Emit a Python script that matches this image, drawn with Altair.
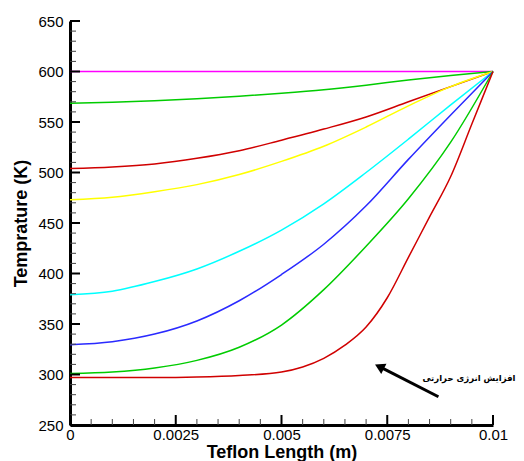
import altair as alt
import pandas as pd

# ---- data ----
x_len = [0, 0.001, 0.002, 0.003, 0.004, 0.005, 0.006, 0.007, 0.008, 0.009, 0.01]

t_magenta = [600, 600, 600, 600, 600, 600, 600, 600, 600, 600, 600]
t_green_top = [568.5, 569.5, 571, 573, 575.5, 578.5, 582, 586.5, 591.5, 596, 600]
t_red_top = [504, 505.5, 508.5, 514, 521.5, 532, 543, 555, 570, 585, 600]
t_yellow = [473, 475.5, 481, 488, 498, 511, 526, 545, 566, 585, 600]
t_cyan = [379, 382.5, 392, 404.5, 422, 443, 469, 500, 533, 567, 600]
t_blue = [329.5, 332.5, 340, 353, 373, 399, 429, 467, 513, 557, 600]
t_green_low = [301, 302.5, 306.5, 314, 327, 349, 384, 427, 474, 530, 600]

x_red_low = [0, 0.001, 0.002, 0.003, 0.004, 0.005, 0.0055, 0.006, 0.0065, 0.007,
             0.0075, 0.008, 0.0085, 0.009, 0.0095, 0.01]
t_red_low = [297, 297, 297, 297.5, 299, 302.5, 307.5, 316, 329, 347,
             376, 416, 456, 496, 548, 600]

series_names = ["m", "g1", "r1", "y", "c", "b", "g2", "r2"]
series_colors = ["#ff00ff", "#00cc00", "#d00000", "#ffff00", "#00ffff", "#2a2aff", "#00cc00", "#d00000"]
series_x = [x_len, x_len, x_len, x_len, x_len, x_len, x_len, x_red_low]
series_values = [t_magenta, t_green_top, t_red_top, t_yellow, t_cyan, t_blue, t_green_low, t_red_low]

x_major = [0, 0.0025, 0.005, 0.0075, 0.01]
x_minor = [0.0005, 0.001, 0.0015, 0.002, 0.003, 0.0035, 0.004, 0.0045,
           0.0055, 0.006, 0.0065, 0.007, 0.008, 0.0085, 0.009, 0.0095]
y_major = [250, 300, 350, 400, 450, 500, 550, 600, 650]
y_minor = [v for v in range(260, 650, 10) if v % 50 != 0]

arrow_x = [0.00871, 0.00735]   # tail, head
arrow_t = [278.0, 307.0]
arrow_angle = 297
note_text = "افزایش انرژی حرارتی"
note_x = [0.01053]
note_t = [297.0]

# ---- tables ----
rows = []
for name, xs, vals in zip(series_names, series_x, series_values):
    for xv, tv in zip(xs, vals):
        rows.append({"series": name, "x": xv, "T": tv})
df = pd.DataFrame(rows)

W, H = 423, 404
FONT = "Liberation Sans"
xscale = alt.Scale(domain=[0, 0.01], nice=False, zero=False)
yscale = alt.Scale(domain=[250, 650], nice=False, zero=False)

x_axis = alt.Axis(values=x_major, title="Teflon Length (m)",
                  labelExpr="'' + datum.value", labelFlush=False,
                  labelOverlap=False, labelPadding=2, titlePadding=1)
y_axis = alt.Axis(values=y_major, title="Temprature (K)",
                  labelFlush=False, labelOverlap=False,
                  labelPadding=7, titlePadding=7)


def xenc(field):
    return alt.X(field, scale=xscale, axis=x_axis)


def yenc(field):
    return alt.Y(field, scale=yscale, axis=y_axis)


lines = alt.Chart(df).mark_line(strokeWidth=1.5, interpolate="monotone").encode(
    x=xenc("x:Q"),
    y=yenc("T:Q"),
    color=alt.Color("series:N", scale=alt.Scale(domain=series_names, range=series_colors), legend=None),
)

ymaj = alt.Chart(pd.DataFrame({"v": y_major})).mark_rule(color="black", strokeWidth=2).encode(
    y=yenc("v:Q"), x=alt.value(0), x2=alt.value(10))
ymin = alt.Chart(pd.DataFrame({"v": y_minor})).mark_rule(color="#444444", strokeWidth=1).encode(
    y=yenc("v:Q"), x=alt.value(0), x2=alt.value(6))
xmaj = alt.Chart(pd.DataFrame({"v": x_major})).mark_rule(color="black", strokeWidth=2).encode(
    x=xenc("v:Q"), y=alt.value(H), y2=alt.value(H - 10))
xmin = alt.Chart(pd.DataFrame({"v": x_minor})).mark_rule(color="#444444", strokeWidth=1).encode(
    x=xenc("v:Q"), y=alt.value(H), y2=alt.value(H - 6))

arrow_df = pd.DataFrame({"x1": [arrow_x[0]], "t1": [arrow_t[0]], "x2": [arrow_x[1]], "t2": [arrow_t[1]]})
arrow_line = alt.Chart(arrow_df).mark_rule(color="black", strokeWidth=3).encode(
    x=xenc("x1:Q"), y=yenc("t1:Q"), x2="x2:Q", y2="t2:Q")
arrow_head = alt.Chart(pd.DataFrame({"x": [arrow_x[1]], "t": [arrow_t[1]]})).mark_point(
    shape="triangle", filled=True, color="black", opacity=1, size=130, angle=arrow_angle).encode(
    x=xenc("x:Q"), y=yenc("t:Q"))

note = alt.Chart(pd.DataFrame({"x": note_x, "t": note_t, "txt": [note_text]})).mark_text(
    font="DejaVu Sans", fontSize=8.5, fontWeight="bold", color="black",
    align="right", baseline="middle").encode(
    x=xenc("x:Q"), y=yenc("t:Q"), text="txt:N")

chart = alt.layer(lines, ymin, ymaj, xmin, xmaj, arrow_line, arrow_head, note).properties(
    width=W, height=H, autosize="none",
    padding={"left": 62, "top": 13, "right": 23, "bottom": 36},
).configure_view(stroke=None).configure_axis(
    grid=False, ticks=False, domainColor="black", domainWidth=3,
    labelFont=FONT, labelFontSize=15, labelColor="black",
    titleFont=FONT, titleFontSize=18, titleFontWeight="bold", titleColor="black",
)

chart.save("out.html", embed_options={"renderer": "svg", "actions": False})
